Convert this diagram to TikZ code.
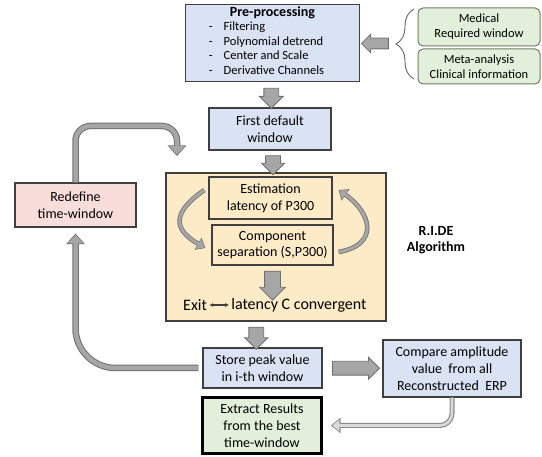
\documentclass[tikz,border=0pt]{standalone}
\usepackage{fontspec}
\setmainfont{Carlito}
\usetikzlibrary{calc}
\usetikzlibrary{arrows.meta}
\usetikzlibrary{positioning}
\usetikzlibrary{shapes.arrows}
\usetikzlibrary{decorations.pathreplacing}
\definecolor{BoxBlue}{HTML}{DAE3F3}
\definecolor{BoxGreen}{HTML}{E2EFDA}
\definecolor{BoxPink}{HTML}{F9DDDB}
\definecolor{BoxYellow}{HTML}{FDEBC8}
\definecolor{EdgeGray}{HTML}{3F3F3F}
\definecolor{GreenEdge}{HTML}{6F7F64}
\definecolor{ArrowFill}{HTML}{A6A6A6}
\definecolor{ArrowEdge}{HTML}{6F6F6F}
\definecolor{PipeLight}{HTML}{D9D9D9}
\tikzset{
  box/.style={draw=EdgeGray, line width=1.2pt, align=center, inner sep=2pt,
    font=\fontsize{14}{16.8}\selectfont},
  bluebox/.style={box, fill=BoxBlue},
  yellowbox/.style={box, fill=BoxYellow},
  pinkbox/.style={box, fill=BoxPink},
  resultbox/.style={box, fill=BoxGreen, draw=black, line width=2.4pt},
  infobox/.style={draw=GreenEdge, line width=1pt, fill=BoxGreen, rounded corners=5pt,
    align=center, font=\fontsize{12.5}{15}\selectfont,
    minimum width=122pt},
  blockarrow/.style={single arrow, draw=ArrowEdge, fill=ArrowFill, line width=0.8pt,
    single arrow head indent=0pt, inner xsep=0pt},
  pipe/.style={draw=ArrowFill, line width=4.5pt, shorten >=1.3pt,
    -{Triangle[length=8.5pt,width=15pt]},
    preaction={draw=ArrowEdge, line width=6.5pt, shorten >=0pt,
      -{Triangle[length=10.5pt,width=18pt]}}},
  curvy/.style={draw=ArrowFill, line width=3pt, shorten >=1pt,
    -{Triangle[length=7pt,width=11pt]},
    preaction={draw=ArrowEdge, line width=4.6pt, shorten >=0pt,
      -{Triangle[length=8.5pt,width=13.5pt]}}},
  thinpipe/.style={draw=PipeLight, line width=2.6pt, shorten >=1.6pt,
    -{Triangle[length=7pt,width=11pt]},
    preaction={draw=ArrowEdge!80, line width=5pt, shorten >=0pt,
      -{Triangle[length=10pt,width=15pt]}}}
}
\begin{document}
\begin{tikzpicture}[x=1pt, y=1pt]
  \useasboundingbox (0,0) rectangle (542,-457);

  % main column
  \node[bluebox, minimum width=174pt, minimum height=76pt] (pre) at (272.5,-43) {%
    \textbf{Pre-processing}\\[0pt]
    \hspace*{-12pt}{\fontsize{12.5}{14.8}\selectfont
    \begin{tabular}{@{}l@{\hspace{11pt}}l@{}}
      - & Filtering\\
      - & Polynomial detrend\\
      - & Center and Scale\\
      - & Derivative Channels
    \end{tabular}}};
  \node[bluebox, minimum width=122pt, minimum height=42pt] (first) at (270,-129)
    {First default\\window};

  \node[yellowbox, minimum width=220pt, minimum height=148pt] (ride) at (276,-247) {};
  \node[yellowbox, minimum width=123pt, minimum height=42pt] (est) at (270.5,-198)
    {Estimation\\latency of P300};
  \node[yellowbox, minimum width=121pt, minimum height=40pt] (comp) at (272.5,-245)
    {Component\\separation (S,P300)};
  \node[font=\fontsize{16}{18}\selectfont, inner sep=0pt, anchor=west] (exit) at (183,-305) {Exit};
  \node[font=\fontsize{16}{18}\selectfont, inner sep=0pt, right=24pt of exit] (conv)
    {latency C convergent};
  \draw[EdgeGray, line width=1.1pt, shorten <=2pt, shorten >=2pt,
    {Latex[length=4pt,width=4pt]}-{Latex[length=4pt,width=4pt]}]
    (exit) -- (conv);
  \node[font=\bfseries\fontsize{14}{16}\selectfont, align=center] (algo) at (436,-240)
    {R.I.DE\\Algorithm};

  \node[bluebox, minimum width=119pt, minimum height=40pt] (store) at (262.5,-368)
    {Store peak value\\in i-th window};
  \node[bluebox, minimum width=138pt, minimum height=57pt] (compare) at (452,-368.5)
    {Compare amplitude\\value \ from all\\Reconstructed \ ERP};
  \node[resultbox, minimum width=119pt, minimum height=56pt] (extract) at (262,-425.5)
    {Extract Results\\from the best\\time-window};

  \node[pinkbox, minimum width=121pt, minimum height=44pt] (redef) at (75.5,-205)
    {Redefine\\time-window};

  % side information
  \node[infobox, minimum height=38pt] (medical) at (479,-27) {Medical\\Required window};
  \node[infobox, minimum height=35pt] (meta) at (479,-66.5) {Meta-analysis\\Clinical information};
  \draw[EdgeGray!80, line width=0.9pt, decorate, decoration={brace, amplitude=18pt}]
    (414,-79) -- (414,-9) coordinate[pos=0.5] (bracemid);
  \coordinate (bracetip) at ($(bracemid)+(-19,0)$);

  % block arrows
  \node[blockarrow, rotate=180, minimum height=27pt, inner ysep=5pt,
    single arrow head extend=4pt] (arrL) at ($(pre.east)!0.5!(bracetip)$) {};
  \node[blockarrow, rotate=-90, minimum height=20pt, inner ysep=7pt,
    single arrow head extend=4.5pt] (arrA) at ($(pre.south)!0.5!(first.north)$) {};
  \node[blockarrow, rotate=-90, minimum height=19pt, inner ysep=7pt,
    single arrow head extend=4pt] (arrB) at ($(first.south)!0.5!(ride.north)$) {};
  \node[blockarrow, rotate=-90, minimum height=29pt, inner ysep=7.5pt,
    single arrow head extend=5pt] (arrC) at ($(comp.south)!0.5!(comp.south |- conv.north)$) {};
  \node[blockarrow, rotate=-90, minimum height=22pt, inner ysep=7pt,
    single arrow head extend=4pt] (arrD) at ($(ride.south)!0.5!(store.north)+(-13,0)$) {};
  \node[blockarrow, minimum height=47pt, inner ysep=6.5pt,
    single arrow head extend=4pt] (arrR) at ($(store.east)!0.5!(compare.west)$) {};

  % loop inside the algorithm
  \draw[curvy] ([shift={(-4,8)}]est.west) to[out=215, in=150, looseness=1.7]
    ([shift={(-6,-3)}]comp.west);
  \draw[curvy] ([shift={(5,-7)}]comp.east) to[out=10, in=-35, looseness=1.7]
    ([shift={(6,8)}]est.east);

  % feedback
  \coordinate (reentry) at (177,-156);
  \draw[pipe, rounded corners=40pt] ([xshift=-4pt]store.west) -| ([yshift=-6pt]redef.south);
  \draw[pipe, rounded corners=15pt] (redef.north) |- ([yshift=30pt]reentry) -- (reentry);
  \draw[thinpipe, rounded corners=12pt] (compare.south) |- ([xshift=8pt]extract.east);
\end{tikzpicture}
\end{document}
